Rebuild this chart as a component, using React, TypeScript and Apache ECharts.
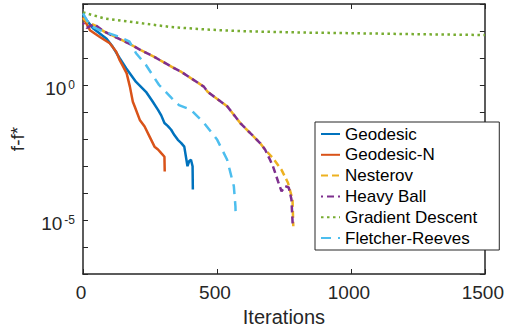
import React, { useEffect, useRef } from "react";
import * as echarts from "echarts";

// ---- data ----
const seriesNames = ["Geodesic", "Geodesic-N", "Nesterov", "Heavy Ball", "Gradient Descent", "Fletcher-Reeves"];
const colors = ["#0072BD", "#D95319", "#EDB120", "#7E2F8E", "#77AC30", "#4DBEEE"];

const geodesicIt = [0, 37, 88, 111, 137, 161, 198, 235, 258, 280, 292, 304, 317, 329, 341, 354, 366, 378, 390, 396, 403, 409, 410];
const geodesicVal = [3.8e2, 1.26e2, 5.2e1, 2.6e1, 9.8, 4.2, 1.3, 0.56, 0.26, 0.12, 0.075, 0.039, 0.03, 0.022, 0.014, 0.0093, 0.0072, 0.0052, 9.8e-4, 1.5e-3, 1.7e-3, 9.8e-4, 1.35e-4];

const geodesicNIt = [0, 26, 63, 100, 124, 137, 150, 163, 175, 186, 193, 212, 230, 249, 267, 280, 292, 304, 305];
const geodesicNVal = [3.2e2, 1.07e2, 6.0e1, 3.5e1, 1.7e1, 8.3, 4.8, 2.7, 0.87, 0.24, 0.16, 0.051, 0.029, 0.012, 0.0052, 0.0041, 0.003, 0.0022, 6.3e-4];

const nesterovIt = [0, 20, 45, 81, 170, 218, 266, 340, 366, 451, 465, 539, 587, 661, 680, 710, 741, 765, 782, 785];
const nesterovVal = [3.0e2, 2.0e2, 1.6e2, 9.3e1, 3.5e1, 1.9e1, 1.1e1, 4.2, 3.1, 0.87, 0.56, 0.16, 0.039, 0.0071, 0.004, 0.0019, 7.2e-4, 2.4e-4, 5.8e-5, 5.9e-6];

const heavyBallIt = [0, 14, 41, 81, 170, 218, 266, 340, 366, 451, 465, 539, 587, 661, 680, 698, 709, 728, 741, 754, 768, 778, 783];
const heavyBallVal = [2.0e2, 1.3e2, 1.8e2, 9.3e1, 3.5e1, 1.9e1, 1.1e1, 4.2, 3.1, 0.87, 0.56, 0.16, 0.039, 0.0071, 0.004, 0.0017, 9.8e-4, 2.7e-4, 1.15e-4, 1.8e-4, 1.6e-4, 5.8e-5, 5.9e-6];

const gradientIt = [0, 81, 207, 329, 451, 576, 698, 846, 1000, 1250, 1500];
const gradientVal = [4.9e2, 2.9e2, 2.0e2, 1.4e2, 1.15e2, 1.0e2, 9.3e1, 8.7e1, 8.3e1, 7.6e1, 7.1e1];

const fletcherIt = [0, 26, 63, 137, 174, 198, 235, 284, 332, 358, 403, 452, 501, 538, 563, 569, 570];
const fletcherVal = [4.5e2, 1.6e2, 1.07e2, 6.0e1, 4.0e1, 1.5e1, 5.5, 1.0, 0.32, 0.18, 0.12, 0.039, 0.0093, 0.0017, 1.8e-4, 3.2e-5, 1.2e-5];

const xTicks = [0, 500, 1000, 1500];
const yMin = 1e-7;
const yMax = 1e3;

const FONT = "Liberation Sans, Arial, Helvetica, sans-serif";
const AX = "#262626";

function pairs(xs: number[], ys: number[]) {
  return xs.map((x, i) => [x, ys[i]]);
}

export default function App() {
  const ref = useRef<HTMLDivElement>(null);
  useEffect(() => {
    if (!ref.current) return;
    const chart = echarts.init(ref.current, undefined, { renderer: "svg" });
    const lineW = 2.5;
    const mk = (i: number, data: number[][], type: any, dashOffset = 0) => ({
      name: seriesNames[i],
      type: "line",
      data,
      symbol: "none",
      showSymbol: false,
      xAxisIndex: 0,
      yAxisIndex: 0,
      itemStyle: { color: colors[i] },
      lineStyle: { color: colors[i], width: lineW, type, dashOffset },
      emphasis: { disabled: true },
    });
    const yAxisBase = {
      type: "log",
      logBase: 10,
      min: yMin,
      max: yMax,
      interval: 1,
      splitNumber: 10,
      axisLine: { show: true, onZero: false, lineStyle: { color: AX, width: 1.5 } },
      axisTick: { show: true, inside: true, length: 5, lineStyle: { color: AX, width: 1 } },
      splitLine: { show: false },
    };
    const option: any = {
      animation: false,
      grid: { left: 81, right: 20, top: 4, bottom: 57, containLabel: false },
      legend: {
        orient: "vertical",
        left: 315,
        top: 122,
        itemWidth: 19,
        itemHeight: 14,
        itemGap: 2.8,
        padding: [3, 22, 3, 5],
        backgroundColor: "#fff",
        borderColor: AX,
        borderWidth: 1,
        itemStyle: { opacity: 0 },
        textStyle: { fontSize: 17, lineHeight: 18, fontFamily: FONT, color: "#000" },
        data: seriesNames,
      },
      xAxis: [
        {
          type: "value",
          min: xTicks[0],
          max: xTicks[xTicks.length - 1],
          interval: 500,
          position: "bottom",
          name: "Iterations",
          nameLocation: "middle",
          nameGap: 33,
          nameTextStyle: { fontSize: 20, fontFamily: FONT, color: AX },
          axisLine: { show: true, onZero: false, lineStyle: { color: AX, width: 1.5 } },
          axisTick: { show: true, inside: true, length: 5, lineStyle: { color: AX, width: 1 } },
          axisLabel: {
            fontSize: 19,
            fontFamily: FONT,
            color: AX,
            margin: 9,
            padding: [0, 4, 0, 0],
            formatter: (v: number) => String(v),
          },
          splitLine: { show: false },
        },
        {
          type: "value",
          min: xTicks[0],
          max: xTicks[xTicks.length - 1],
          interval: 500,
          position: "top",
          axisLine: { show: true, onZero: false, lineStyle: { color: AX, width: 1.5 } },
          axisTick: { show: true, inside: true, length: 5, lineStyle: { color: AX, width: 1 } },
          axisLabel: { show: false },
          splitLine: { show: false },
        },
      ],
      yAxis: [
        {
          ...yAxisBase,
          position: "left",
          name: "f-f*",
          nameLocation: "middle",
          nameGap: 56,
          nameTextStyle: { fontSize: 19, fontFamily: FONT, color: AX },
          axisLabel: {
            margin: 8,
            padding: [6, 0, 0, 0],
            formatter: (v: number) => {
              const e = Math.round(Math.log10(v));
              if (Math.abs(e % 5) !== 0) return "";
              return "{b|10}{s|" + e + "}";
            },
            rich: {
              b: { fontSize: 19, lineHeight: 19, verticalAlign: "bottom", fontFamily: FONT, color: AX },
              s: { fontSize: 12, lineHeight: 12, verticalAlign: "top", fontFamily: FONT, color: AX, padding: [0, 0, 0, 2] },
            },
          },
        },
        {
          ...yAxisBase,
          position: "right",
          axisLabel: { show: false },
        },
      ],
      series: [
        mk(0, pairs(geodesicIt, geodesicVal), "solid"),
        mk(1, pairs(geodesicNIt, geodesicNVal), "solid"),
        mk(2, pairs(nesterovIt, nesterovVal), [7, 4]),
        mk(3, pairs(heavyBallIt, heavyBallVal), [7, 4], 5),
        mk(4, pairs(gradientIt, gradientVal), [2.5, 3.5]),
        mk(5, pairs(fletcherIt, fletcherVal), [10, 7]),
      ],
    };
    chart.setOption(option);
    return () => chart.dispose();
  }, []);
  return (
    <div
      ref={ref}
      style={{ position: "fixed", left: 0, top: 0, width: 507, height: 332, background: "#fff" }}
    />
  );
}
